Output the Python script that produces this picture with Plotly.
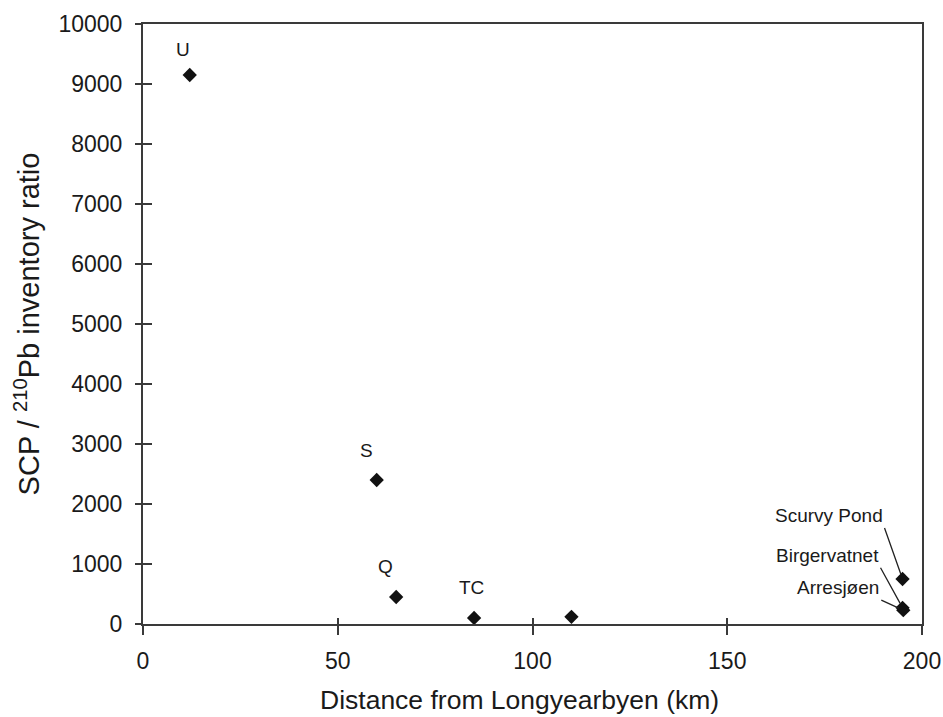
import plotly.graph_objects as go

# Data
sites = ["U", "S", "Q", "TC", "", "Scurvy Pond", "Birgervatnet", "Arresjøen"]
distance_km = [12.0, 60.0, 65.0, 85.0, 110.0, 195.0, 195.0, 195.2]
scp_ratio = [9150, 2400, 450, 100, 120, 750, 270, 230]

x_ticks = [0, 50, 100, 150, 200]
y_ticks = list(range(0, 10001, 1000))
y_ticktext = [str(v) for v in y_ticks]

x_title = "Distance from Longyearbyen (km)"
y_title = "SCP / <sup>210</sup>Pb inventory ratio"

FONT = "Liberation Sans, Arial, sans-serif"
LINE = "#3a3a3a"
TXT = "#1a1a1a"

fig = go.Figure()
fig.add_trace(go.Scatter(
    x=distance_km, y=scp_ratio, mode="markers",
    marker=dict(symbol="diamond", size=11, color="#111111"),
    showlegend=False, hoverinfo="x+y",
))
# invisible trace on overlay axes so the inner tick halves render
fig.add_trace(go.Scatter(x=distance_km, y=scp_ratio, mode="markers",
                         marker=dict(opacity=0), xaxis="x2", yaxis="y2",
                         showlegend=False, hoverinfo="skip"))

# simple point labels
simple = {"U": (-7, 26), "S": (-10, 30), "Q": (-11, 31), "TC": (-3, 31)}
for name, x, y in zip(sites, distance_km, scp_ratio):
    if name in simple:
        dx, dy = simple[name]
        fig.add_annotation(x=x, y=y, text=name, showarrow=False,
                           xshift=dx, yshift=dy,
                           font=dict(family=FONT, size=19, color=TXT))

# leader-line labels (text box bottom-right corner at the line tail)
leaders = {"Scurvy Pond": (-18, -51), "Birgervatnet": (-22, -40), "Arresjøen": (-22, -10)}
for name, x, y in zip(sites, distance_km, scp_ratio):
    if name in leaders:
        ax, ay = leaders[name]
        fig.add_annotation(x=x, y=y, text=name, showarrow=True,
                           ax=ax, ay=ay, xanchor="right", yanchor="bottom",
                           arrowhead=0, arrowwidth=1.3,
                           arrowcolor="#222222", standoff=5,
                           font=dict(family=FONT, size=19, color=TXT))

# x axis title (slightly left of the plot centre, as in the source)
fig.add_annotation(xref="paper", yref="paper", x=0.483, y=-0.127,
                   xanchor="center", yanchor="middle", showarrow=False,
                   text=x_title, font=dict(family=FONT, size=26.5, color=TXT))

axis_common = dict(showgrid=False, zeroline=False, linecolor=LINE, linewidth=2,
                   tickcolor=LINE, tickwidth=1.5, automargin=False)

fig.update_layout(
    width=943, height=717,
    margin=dict(l=143, r=21, t=24, b=93),
    paper_bgcolor="white", plot_bgcolor="white",
    font=dict(family=FONT, color=TXT),
    xaxis=dict(range=[0, 200], tickvals=x_ticks, ticks="outside", ticklen=9,
               showline=True, mirror=True, ticklabelstandoff=6,
               tickfont=dict(size=23, family=FONT, color=TXT),
               **axis_common),
    yaxis=dict(range=[0, 10000], tickvals=y_ticks, ticktext=y_ticktext,
               ticks="outside", ticklen=6, showline=True, mirror=True,
               ticklabelstandoff=8,
               tickfont=dict(size=23, family=FONT, color=TXT),
               title=dict(text=y_title,
                          font=dict(size=29, family=FONT, color=TXT), standoff=10),
               **axis_common),
    xaxis2=dict(range=[0, 200], tickvals=x_ticks, ticks="inside", ticklen=6,
                overlaying="x", showticklabels=False, showline=False, **axis_common),
    yaxis2=dict(range=[0, 10000], tickvals=y_ticks, ticks="inside", ticklen=9,
                overlaying="y", showticklabels=False, showline=False, **axis_common),
)

fig.write_html("out.html", config={"displayModeBar": False},
               post_script="document.body.style.margin='0';document.body.style.overflow='hidden';")
